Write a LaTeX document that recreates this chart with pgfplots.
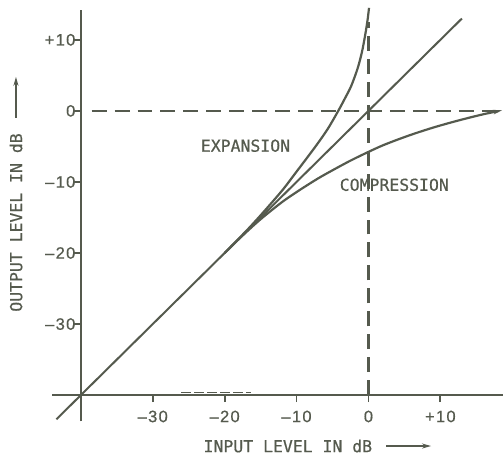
\documentclass[border=0pt]{standalone}
\usepackage{pgfplots}
\pgfplotsset{compat=1.18}
\usepackage{fontspec}
\setmainfont{Liberation Sans}
\newfontfamily\ticfont{Liberation Sans}[LetterSpace=8, FakeBold=0.6]
\newfontfamily\labfont{DejaVu Sans Mono}[FakeBold=0.6]
\usetikzlibrary{arrows.meta}
\definecolor{ink}{RGB}{85,90,78}
\begin{document}
\begin{tikzpicture}
\begin{axis}[
  at={(0,0)}, anchor=south west,
  scale only axis, width=423pt, height=386pt,
  xmin=-40, xmax=18.7, ymin=-40, ymax=14.2,
  axis x line*=bottom, axis y line*=left,
  axis line style={ink, line width=2.2pt},
  tick align=outside,
  major tick length=7pt,
  tick style={ink, line width=1.8pt},
  xtick={-30,-20,-10,0,10}, xticklabels={–30,–20,–10,0,+10},
  ytick={-30,-20,-10,0,10}, yticklabels={–30,–20,–10,0,+10},
  ticklabel style={font=\ticfont\fontsize{16.5}{19}\selectfont, text=ink},
  xticklabel style={yshift=-5pt},
  yticklabel style={xshift=5pt},
  clip=false,
]
% axis extensions past the origin
\addplot[ink, line width=2.2pt] coordinates {(-44,-40) (-40,-40)};
\addplot[ink, line width=2.2pt] coordinates {(-40,-43.7) (-40,-40)};
% faint dashes on x axis
\addplot[ink, line width=0.8pt, dash pattern=on 10pt off 3pt] coordinates {(-26,-39.6) (-16.3,-39.6)};
% dashed reference lines
\addplot[ink, line width=2pt, dash pattern=on 15pt off 8pt] coordinates {(-38.5,0) (18.4,0)};
\addplot[ink, line width=2.2pt, dash pattern=on 15pt off 8pt] coordinates {(0,-40) (0,12.5)};
% diagonal (linear)
\addplot[ink, line width=2pt] coordinates {(-43.4,-43.4) (13,13)};
% expansion
\addplot[ink, line width=2.2pt, smooth] coordinates {
 (-20,-20) (-17,-16.9) (-15,-14.7) (-12,-11.2) (-10,-8.55) (-7.5,-5.2)
 (-5.7,-2.6) (-4.2,0) (-3.3,1.7) (-2.4,3.5) (-1.5,6.0) (-0.9,8.3)
 (-0.45,10.7) (-0.12,12.8) (0.08,14.5)};
% compression
\addplot[ink, line width=2.2pt, smooth, -{Stealth[length=9pt,width=4.5pt]}] coordinates {
 (-20,-20) (-17.5,-17.54) (-15,-15.25) (-12,-12.82) (-9.6,-11.16) (-7,-9.5)
 (-5,-8.36) (-2.5,-7.0) (0,-5.77) (2,-4.85) (4.3,-3.95) (6.5,-3.16)
 (9,-2.35) (11.2,-1.71) (13.5,-1.09) (16,-0.47) (18.6,0.08)};
\node[text=ink, font=\labfont\fontsize{16.5}{19}\selectfont] at (axis cs:-17.1,-4.9) {EXPANSION};
\node[text=ink, font=\labfont\fontsize{16.5}{19}\selectfont] at (axis cs:3.6,-10.4) {COMPRESSION};
\end{axis}
\node[text=ink, font=\labfont\fontsize{16.5}{19}\selectfont] at (207.5pt,-51pt) {INPUT LEVEL IN dB};
\node[text=ink, font=\labfont\fontsize{16.5}{19}\selectfont, rotate=90] at (-65pt,173pt) {OUTPUT LEVEL IN dB};
\draw[ink, line width=1.5pt, -{Stealth[length=9pt,width=5pt]}] (306pt,-51pt) -- (351pt,-51pt);
\draw[ink, line width=1.5pt, -{Stealth[length=9pt,width=5pt]}] (-65pt,278pt) -- (-65pt,319pt);
\path (-81pt,-62pt) rectangle (423pt,396pt);
\end{tikzpicture}
\end{document}
